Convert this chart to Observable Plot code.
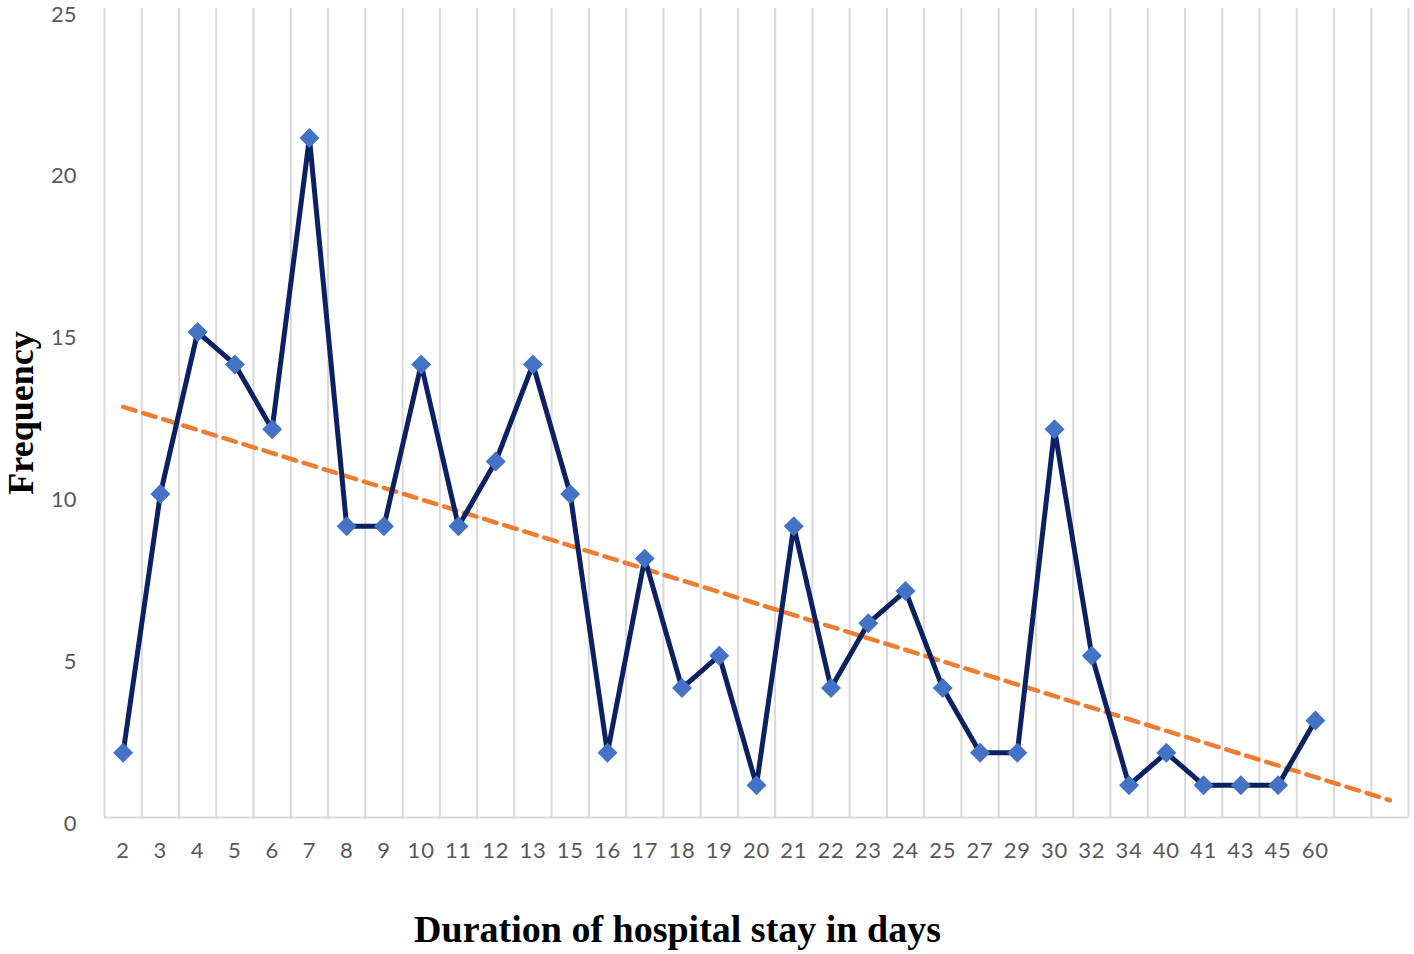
<!DOCTYPE html>
<html>
<head>
<meta charset="utf-8">
<script src="https://cdn.jsdelivr.net/npm/d3@7"></script>
<script src="https://cdn.jsdelivr.net/npm/@observablehq/plot@0.6"></script>
<style>
  html, body { margin: 0; padding: 0; background: #ffffff; }
  #chart svg { display: block; overflow: visible; }
  #chart [aria-label="x-axis tick label"] text { letter-spacing: 0.8px; }
</style>
</head>
<body>
<div id="chart"></div>
<script>
// Duration of hospital stay (days) — category labels on the x axis
const categories = ["2","3","4","5","6","7","8","9","10","11","12","13","15","16","17","18","19","20",
  "21","22","23","24","25","27","29","30","32","34","40","41","43","45","60"];
// Frequency for each duration
const frequency = [2,10,15,14,12,21,9,9,14,9,11,14,10,2,8,4,5,1,9,4,6,7,4,2,2,12,5,1,2,1,1,1,3];
// Y tick values
const yTicks = [0, 5, 10, 15, 20, 25];
// Linear trendline extends this many periods beyond the last category
const forecastForward = 2;

const data = categories.map((c, i) => ({i: i + 1, label: c, v: frequency[i]}));
const nSlots = categories.length + forecastForward;

// least-squares linear trend on the category index
const xMean = d3.mean(data, d => d.i);
const yMean = d3.mean(data, d => d.v);
const slope = d3.sum(data, d => (d.i - xMean) * (d.v - yMean)) / d3.sum(data, d => (d.i - xMean) ** 2);
const intercept = yMean - slope * xMean;
const trend = [1, nSlots].map(i => ({i, v: intercept + slope * i}));

const grid = d3.range(0.5, nSlots + 1, 1);

const chart = Plot.plot({
  width: 1414,
  height: 954,
  marginLeft: 104,
  marginRight: 6,
  marginTop: 8,
  marginBottom: 137,
  x: {type: "linear", domain: [0.5, nSlots + 0.5]},
  y: {domain: [0, 25]},
  style: {fontFamily: "Lato, 'Open Sans', sans-serif", background: "#ffffff", overflow: "visible"},
  marks: [
    Plot.ruleX(grid, {stroke: "#d9d9d9", strokeWidth: 2}),
    Plot.ruleY([0], {stroke: "#d9d9d9", strokeWidth: 2}),
    Plot.axisY({ticks: yTicks, tickSize: 0, tickPadding: 28, fontSize: 22, fill: "#595959", dy: 6, label: null}),
    Plot.axisX({ticks: data.map(d => d.i), tickFormat: i => categories[i - 1], tickSize: 0, tickPadding: 25,
      fontSize: 22, fill: "#595959", label: null}),
    Plot.line(trend, {x: "i", y: "v", stroke: "#ED7D31", strokeWidth: 4.5, strokeDasharray: "13,8"}),
    Plot.line(data, {x: "i", y: "v", stroke: "#0c2161", strokeWidth: 5, strokeLinejoin: "miter"}),
    Plot.dot(data, {x: "i", y: "v", symbol: "diamond2", r: 9, fill: "#4472C4", stroke: null}),
    Plot.text(["Duration of hospital stay in days"], {text: d => d, frameAnchor: "bottom-left", dx: 573, dy: 112,
      textAnchor: "middle", lineAnchor: "middle", fontFamily: "'Liberation Serif', 'Times New Roman', serif",
      fontWeight: "bold", fontSize: 38, fill: "#000000"}),
    Plot.text(["Frequency"], {text: d => d, frameAnchor: "left", dx: -83, rotate: -90,
      textAnchor: "middle", lineAnchor: "middle", fontFamily: "'Liberation Serif', 'Times New Roman', serif",
      fontWeight: "bold", fontSize: 36, fill: "#000000"})
  ]
});
document.getElementById("chart").appendChild(chart);
</script>
</body>
</html>
